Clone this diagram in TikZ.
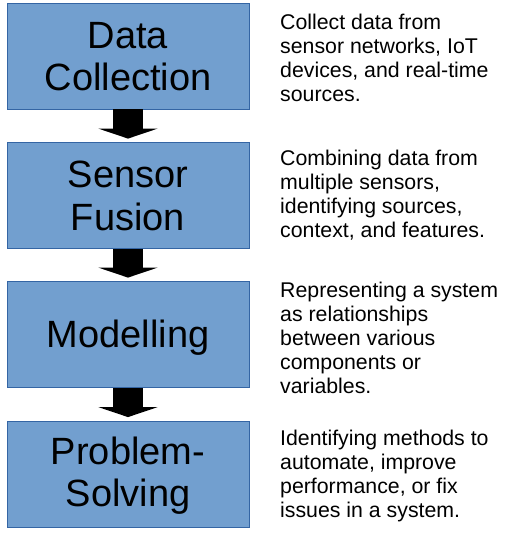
\documentclass[tikz,border=0pt]{standalone}
\usepackage{fontspec}
\setmainfont{Liberation Sans}
\usetikzlibrary{arrows.meta}
\definecolor{boxfill}{HTML}{729FCF}
\definecolor{boxline}{HTML}{3465A4}
\tikzset{
  stage/.style={draw=boxline, line width=0.8pt, fill=boxfill, minimum width=242pt, minimum height=106pt,
    inner sep=0pt},
  stagetext/.style={inner sep=0pt, align=center, font=\fontsize{38}{42.3}\selectfont},
  desc/.style={anchor=west, inner sep=0pt, align=left, font=\fontsize{21.3}{24}\selectfont},
  flow/.style={line width=30pt, -{Triangle[width=59pt,length=10pt]}}
}
\begin{document}
\begin{tikzpicture}[x=1pt,y=1pt]
\useasboundingbox (0,0) rectangle (515,-536);
\node[stage] (b1) at (128,-56) {};
\node[stage] (b2) at (128,-195.5) {};
\node[stage] (b3) at (128,-334.5) {};
\node[stage] (b4) at (128,-474) {};
\node[stagetext] (t1) at ([yshift=-0.5pt]b1.center) {Data\\Collection};
\node[stagetext] (t2) at ([yshift=-0.5pt]b2.center) {Sensor\\Fusion};
\node[stagetext] (t3) at ([yshift=-3pt]b3.center) {Modelling};
\node[stagetext] (t4) at ([yshift=-1.5pt]b4.center) {Problem-\\Solving};
\draw[flow] (b1.south) -- ([yshift=3.5pt]b2.north);
\draw[flow] (b2.south) -- ([yshift=3.5pt]b3.north);
\draw[flow] (b3.south) -- ([yshift=3.5pt]b4.north);
\node[desc] (d1) at (280,-58) {Collect data from\\sensor networks, IoT\\devices, and real-time\\sources.};
\node[desc] (d2) at (280,-195) {Combining data from\\multiple sensors,\\identifying sources,\\context, and features.};
\node[desc] (d3) at (280,-338) {Representing a system\\as relationships\\between various\\components or\\variables.};
\node[desc] (d4) at (280,-476) {Identifying methods to\\automate, improve\\performance, or fix\\issues in a system.};
\end{tikzpicture}
\end{document}
